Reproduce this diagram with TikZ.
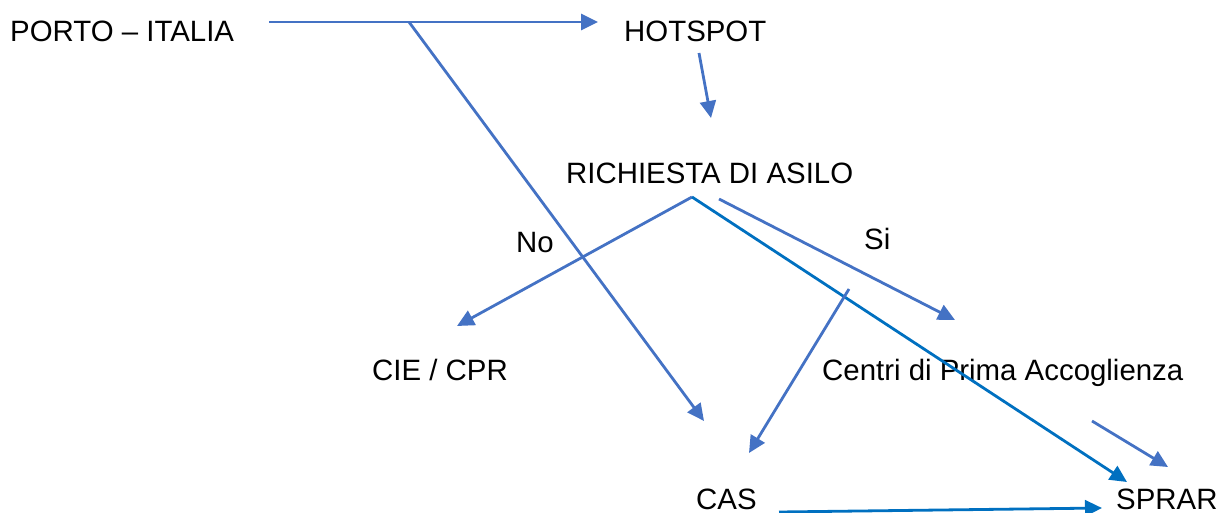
\documentclass[tikz,border=0pt]{standalone}
\usepackage{fontspec}
\setmainfont{Liberation Sans}
\usetikzlibrary{arrows.meta}
\definecolor{lblue}{HTML}{4472C4}
\definecolor{dblue}{HTML}{0070C0}
\begin{document}
\begin{tikzpicture}[x=1pt,y=-1pt,
  lbl/.style={inner sep=0pt,anchor=base west,font=\fontsize{29.4}{32}\selectfont},
  conn/.style={line width=2.8pt,lblue,-{Triangle[length=17pt,width=16pt]}},
  dconn/.style={conn,dblue}]
\useasboundingbox (0,0) rectangle (1218,513);
\node[lbl] (porto) at (10,42) {PORTO -- ITALIA};
\node[lbl] (hot) at (624,42) {HOTSPOT};
\node[lbl] (rich) at (566,184) {RICHIESTA DI ASILO};
\node[lbl] (no) at (516,252) {No};
\node[lbl] (si) at (864,250) {Si};
\node[lbl] (cie) at (372,380) {CIE / CPR};
\node[lbl] (cpa) at (822,380) {Centri di Prima Accoglienza};
\node[lbl] (cas) at (696,509) {CAS};
\node[lbl] (sprar) at (1116,509) {SPRAR};
% connector end points
\coordinate (p1) at (269,22);
\coordinate (p2) at (598,22);
\coordinate (pb) at (409,22);
\coordinate (pc) at (704,421);
\coordinate (h1) at (699,53);
\coordinate (h2) at (711,118);
\coordinate (r0) at (692,197);
\coordinate (rc) at (457,326);
\coordinate (rs) at (1127,482);
\coordinate (s1) at (719,199);
\coordinate (s2) at (955,320);
\coordinate (c1) at (849,289);
\coordinate (c2) at (749,453);
\coordinate (a1) at (1092,421);
\coordinate (a2) at (1168,467);
\coordinate (k1) at (779,512);
\coordinate (k2) at (1102,508);
\draw[conn] (p1) -- (p2);
\draw[conn] (pb) -- (pc);
\draw[conn] (h1) -- (h2);
\draw[conn] (r0) -- (rc);
\draw[dconn] (r0) -- (rs);
\draw[conn] (s1) -- (s2);
\draw[conn] (c1) -- (c2);
\draw[conn] (a1) -- (a2);
\draw[dconn] (k1) -- (k2);
\end{tikzpicture}
\end{document}
